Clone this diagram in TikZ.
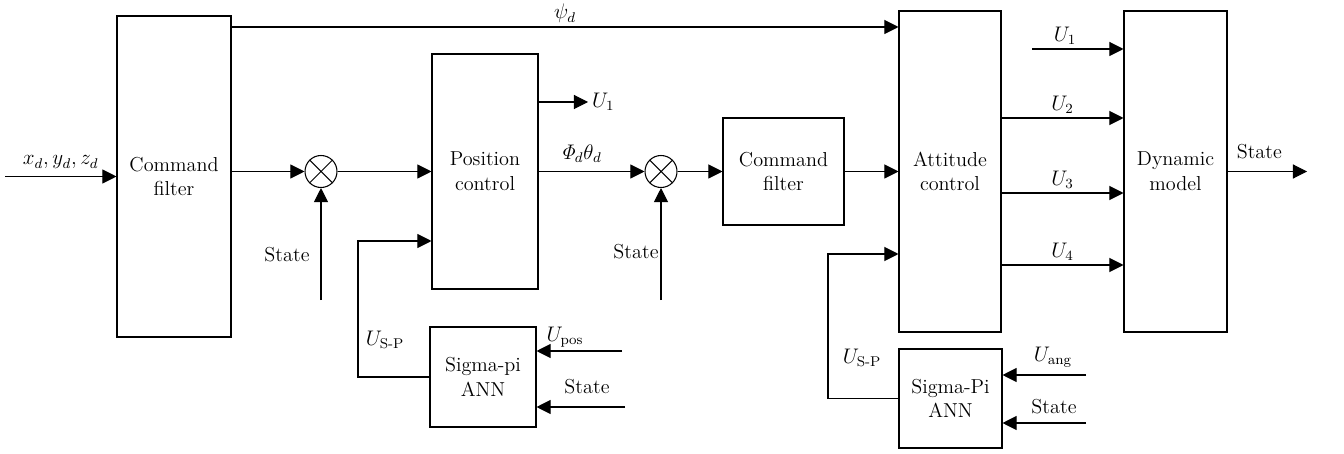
\documentclass[tikz,border=0pt]{standalone}
\usepackage{amsmath}
\usetikzlibrary{arrows.meta}
\begin{document}
\begin{tikzpicture} [line width = 0.6pt, >={Triangle[length=8pt,width=8pt]},
	block/.style = {draw, align = center, inner sep = 0pt, font = \fontsize{11.5}{14}\selectfont},
	summer/.style = {draw, circle, minimum size = 0.64cm, inner sep = 0pt,
		path picture = {\draw (path picture bounding box.north west) -- (path picture bounding box.south east)
			(path picture bounding box.north east) -- (path picture bounding box.south west);}},
	lbl/.style = {font = \fontsize{11.5}{14}\selectfont, inner sep = 2pt}]
	\useasboundingbox (0,0) rectangle (26.88,9.06);
	\node [block, minimum width = 2.28cm, minimum height = 6.42cm] (cf1) at (3.48,5.53) {Command\\filter};
	\node [summer] (s1) at (6.42,5.63) {};
	\node [block, minimum width = 2.12cm, minimum height = 4.70cm] (pos) at (9.70,5.63) {Position\\control};
	\node [block, minimum width = 2.12cm, minimum height = 2.00cm] (ann1) at (9.66,1.52) {Sigma-pi\\ANN};
	\node [summer] (s2) at (13.22,5.63) {};
	\node [block, minimum width = 2.42cm, minimum height = 2.14cm] (cf2) at (15.67,5.63) {Command\\filter};
	\node [block, minimum width = 2.04cm, minimum height = 6.42cm] (att) at (19.00,5.63) {Attitude\\control};
	\node [block, minimum width = 2.06cm, minimum height = 1.98cm] (ann2) at (19.01,1.09) {Sigma-Pi\\ANN};
	\node [block, minimum width = 2.06cm, minimum height = 6.42cm] (dyn) at (23.51,5.63) {Dynamic\\model};
	\coordinate (xin) at (0.10,5.53);
	\coordinate (psi) at (0,8.52);
	\coordinate (st1) at (6.42,3.06);
	\coordinate (st2) at (13.22,3.06);
	\coordinate (u1p) at (11.76,7.02);
	\coordinate (fb1) at (7.16,4.24);
	\coordinate (upos) at (12.44,2.04);
	\coordinate (sta1) at (12.50,0.92);
	\coordinate (fb2) at (16.56,3.98);
	\coordinate (uang) at (21.72,1.56);
	\coordinate (sta2) at (21.72,0.60);
	\coordinate (u1a) at (20.64,8.08);
	\coordinate (sout) at (26.14,5.63);
	\draw [->] (xin) -- (cf1.west |- xin) node [lbl, midway, above = 2pt] (lxin) {$x_d, y_d, z_d$};
	\draw [->] (cf1.east |- psi) -- (att.west |- psi) node [lbl, midway, above] (lpsi) {$\psi_d$};
	\draw [->] (cf1.east |- s1) -- (s1);
	\draw [->] (st1) -- (s1);
	\node [lbl] (lst1) at (5.74,3.96) {State};
	\draw [->] (s1) -- (pos.west |- s1);
	\draw [->] (ann1.west) -| (fb1) -- (pos.west |- fb1);
	\node [lbl] (lsp1) at (7.70,2.26) {$U_{\text{S-P}}$};
	\draw [->] (upos) -- (ann1.east |- upos);
	\node [lbl] (lupos) at (11.30,2.32) {$U_{\mathrm{pos}}$};
	\draw [->] (sta1) -- (ann1.east |- sta1);
	\node [lbl] (lsta1) at (11.74,1.32) {State};
	\draw [->] (pos.east |- u1p) -- (u1p) node [lbl, right] (lu1p) {$U_1$};
	\draw [->] (pos.east |- s2) -- (s2) node [lbl, pos = 0.4, above = 3pt] (lphi) {$\mathit{\Phi}_d\theta_d$};
	\draw [->] (st2) -- (s2);
	\node [lbl] (lst2) at (12.72,4.02) {State};
	\draw [->] (s2) -- (cf2);
	\draw [->] (cf2) -- (att);
	\draw [->] (ann2.west) -| (fb2) -- (att.west |- fb2);
	\node [lbl] (lsp2) at (17.24,1.90) {$U_{\text{S-P}}$};
	\draw [->] (uang) -- (ann2.east |- uang);
	\node [lbl] (luang) at (21.06,1.92) {$U_{\mathrm{ang}}$};
	\draw [->] (sta2) -- (ann2.east |- sta2);
	\node [lbl] (lsta2) at (21.08,0.92) {State};
	\draw [->] (u1a) -- (dyn.west |- u1a) node [lbl, pos = 0.36, above] (lu1a) {$U_1$};
	\foreach \y/\k in {6.70/2, 5.20/3, 3.76/4} {
		\coordinate (u\k) at (20,\y);
		\draw [->] (att.east |- u\k) -- (dyn.west |- u\k) node [lbl, midway, above] (lu\k) {$U_\k$};
	}
	\draw [->] (dyn) -- (sout) node [lbl, pos = 0.4, above = 5pt] (lsout) {State};
\end{tikzpicture}
\end{document}
